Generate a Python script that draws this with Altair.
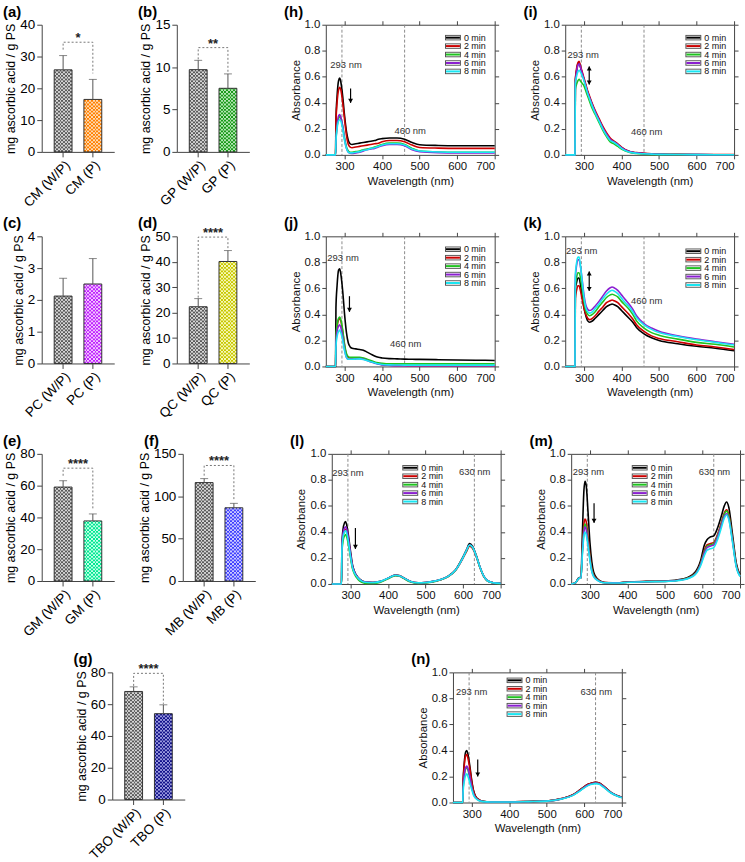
import math
import altair as alt
import pandas as pd

FONT = "Liberation Sans"

# ---------------- antioxidant capacity, bar panels (a)-(g) ----------------
GROUPS = ["CM", "GP", "PC", "QC", "GM", "MB", "TBO"]
MEAN_WP = [25.8, 9.7, 2.12, 22.3, 59.1, 116.1, 68.0]
SD_WP = [4.5, 1.1, 0.56, 3.2, 4.0, 4.7, 2.9]
MEAN_P = [16.5, 7.5, 2.5, 40.1, 37.8, 86.4, 54.0]
SD_P = [6.3, 1.7, 0.8, 4.3, 4.4, 5.2, 5.6]
SIGNIF = ["*", "**", "", "****", "****", "****", "****"]
Y_TICKS = [[0, 10, 20, 30, 40], [0, 5, 10, 15], [0, 1, 2, 3, 4], [0, 10, 20, 30, 40, 50],
           [0, 20, 40, 60, 80], [0, 50, 100, 150], [0, 20, 40, 60, 80]]
BRACKET_Y = [34.5, 12.3, None, 49.7, 71.0, 136.3, 79.4]

# two tones of each bar's checkered fill: (dark, light)
GRAY_TONES = ("#5a5a5a", "#d6d6d6")
P_TONES = [("#ff8000", "#ffd9b0"), ("#1a9a1a", "#b3e6b3"), ("#c020ff", "#f2c6ff"), ("#c8c800", "#f7f7b5"),
           ("#00e890", "#c2ffe8"), ("#4040ff", "#cacaff"), ("#12128a", "#9a9ade")]
BRACKET_GAP_PX = [6, 1, 0, 1, 5, 3, 1]

# ---------------- absorbance spectra, panels (h)-(n) ----------------
SERIES = ["0 min", "2 min", "4 min", "6 min", "8 min"]
COLORS = ["#000000", "#cc0000", "#1fc41f", "#8b1fd1", "#19e6f2"]

WL_A = [250, 276, 277, 280, 284, 287, 290, 295, 300, 305, 310, 315, 320, 330, 340, 350,
        360, 370, 380, 390, 400, 420, 440, 460, 480, 500, 550, 600, 650, 700]

H0 = [0, 0, 0.27, 0.45, 0.57, 0.59, 0.56, 0.45, 0.30, 0.18, 0.11, 0.085, 0.08, 0.085, 0.09, 0.095,
      0.10, 0.105, 0.11, 0.12, 0.125, 0.13, 0.13, 0.12, 0.095, 0.078, 0.072, 0.07, 0.07, 0.07]
H2 = [0, 0, 0.25, 0.40, 0.50, 0.52, 0.50, 0.40, 0.27, 0.15, 0.08, 0.06, 0.055, 0.06, 0.065, 0.07,
      0.075, 0.08, 0.085, 0.09, 0.10, 0.11, 0.11, 0.10, 0.075, 0.057, 0.052, 0.05, 0.05, 0.05]
H4 = [0, 0, 0.12, 0.22, 0.28, 0.30, 0.28, 0.22, 0.13, 0.06, 0.03, 0.02, 0.02, 0.025, 0.03, 0.04,
      0.045, 0.05, 0.06, 0.07, 0.08, 0.09, 0.09, 0.08, 0.05, 0.03, 0.022, 0.02, 0.02, 0.02]
H6 = [0, 0, 0.10, 0.22, 0.30, 0.31, 0.29, 0.22, 0.12, 0.05, 0.02, 0.012, 0.01, 0.015, 0.02, 0.03,
      0.04, 0.045, 0.05, 0.06, 0.07, 0.08, 0.08, 0.07, 0.04, 0.025, 0.017, 0.015, 0.015, 0.015]
H8 = [0, 0, 0.10, 0.20, 0.26, 0.27, 0.26, 0.20, 0.11, 0.05, 0.02, 0.015, 0.015, 0.02, 0.025, 0.035,
      0.04, 0.05, 0.055, 0.065, 0.075, 0.085, 0.085, 0.075, 0.045, 0.03, 0.022, 0.02, 0.02, 0.02]

I0 = [0, 0, 0.57, 0.64, 0.70, 0.71, 0.68, 0.63, 0.58, 0.53, 0.48, 0.44, 0.40, 0.33, 0.27, 0.21,
      0.16, 0.12, 0.10, 0.08, 0.055, 0.025, 0.015, 0.01, 0.007, 0.005, 0.003, 0.002, 0.001, 0.001]
I2 = [0, 0, 0.57, 0.66, 0.71, 0.72, 0.69, 0.64, 0.59, 0.54, 0.49, 0.45, 0.41, 0.34, 0.28, 0.22,
      0.17, 0.13, 0.105, 0.085, 0.06, 0.028, 0.017, 0.012, 0.008, 0.006, 0.004, 0.003, 0.002, 0.002]
I4 = [0, 0, 0.50, 0.54, 0.57, 0.58, 0.57, 0.55, 0.53, 0.49, 0.45, 0.41, 0.37, 0.31, 0.25, 0.19,
      0.14, 0.10, 0.085, 0.065, 0.045, 0.02, 0.01, 0.006, 0.004, 0.003, 0.002, 0.001, 0.001, 0.001]
I6 = [0, 0, 0.55, 0.63, 0.69, 0.70, 0.68, 0.63, 0.58, 0.53, 0.48, 0.44, 0.40, 0.33, 0.27, 0.21,
      0.16, 0.12, 0.10, 0.08, 0.055, 0.025, 0.015, 0.01, 0.007, 0.005, 0.003, 0.002, 0.001, 0.001]
I8 = [0, 0, 0.55, 0.60, 0.64, 0.65, 0.64, 0.61, 0.57, 0.52, 0.47, 0.43, 0.39, 0.32, 0.26, 0.20,
      0.15, 0.11, 0.095, 0.075, 0.05, 0.022, 0.012, 0.008, 0.006, 0.004, 0.003, 0.002, 0.001, 0.001]

J0 = [0, 0, 0.45, 0.62, 0.74, 0.75, 0.71, 0.58, 0.40, 0.26, 0.18, 0.15, 0.14, 0.135, 0.13, 0.125,
      0.11, 0.095, 0.08, 0.07, 0.065, 0.06, 0.058, 0.056, 0.055, 0.054, 0.052, 0.05, 0.048, 0.046]
J2 = [0, 0, 0.20, 0.30, 0.36, 0.37, 0.35, 0.27, 0.16, 0.09, 0.07, 0.065, 0.065, 0.065, 0.065, 0.06,
      0.05, 0.04, 0.03, 0.02, 0.015, 0.01, 0.008, 0.007, 0.006, 0.006, 0.005, 0.005, 0.005, 0.005]
J4 = [0, 0, 0.22, 0.32, 0.37, 0.38, 0.36, 0.28, 0.17, 0.10, 0.075, 0.07, 0.07, 0.07, 0.07, 0.065,
      0.055, 0.045, 0.035, 0.028, 0.024, 0.02, 0.02, 0.02, 0.02, 0.02, 0.02, 0.02, 0.02, 0.02]
J6 = [0, 0, 0.18, 0.27, 0.31, 0.32, 0.30, 0.23, 0.13, 0.07, 0.055, 0.055, 0.055, 0.058, 0.06, 0.055,
      0.045, 0.035, 0.025, 0.018, 0.012, 0.008, 0.006, 0.005, 0.005, 0.005, 0.005, 0.005, 0.005, 0.005]
J8 = [0, 0, 0.15, 0.23, 0.27, 0.28, 0.26, 0.20, 0.12, 0.07, 0.055, 0.055, 0.055, 0.057, 0.058, 0.054,
      0.045, 0.036, 0.028, 0.02, 0.015, 0.012, 0.011, 0.01, 0.01, 0.01, 0.01, 0.01, 0.01, 0.01]

WL_K = [250, 276, 277, 280, 284, 287, 290, 295, 300, 305, 310, 315, 320, 330, 340, 350, 360,
        370, 375, 380, 390, 400, 410, 420, 430, 440, 460, 480, 500, 550, 600, 650, 700]
K0 = [0, 0, 0.60, 0.64, 0.68, 0.68, 0.64, 0.55, 0.45, 0.39, 0.35, 0.34, 0.345, 0.37, 0.40, 0.43, 0.46,
      0.475, 0.48, 0.475, 0.46, 0.43, 0.40, 0.37, 0.34, 0.30, 0.25, 0.22, 0.20, 0.175, 0.155, 0.14, 0.12]
K2 = [0, 0, 0.52, 0.58, 0.62, 0.62, 0.59, 0.52, 0.45, 0.40, 0.37, 0.36, 0.365, 0.39, 0.425, 0.455, 0.49,
      0.505, 0.51, 0.505, 0.49, 0.46, 0.43, 0.40, 0.365, 0.32, 0.27, 0.235, 0.215, 0.19, 0.165, 0.15, 0.13]
K4 = [0, 0, 0.62, 0.68, 0.72, 0.72, 0.69, 0.60, 0.50, 0.43, 0.40, 0.39, 0.395, 0.42, 0.46, 0.495, 0.53,
      0.55, 0.555, 0.55, 0.535, 0.50, 0.47, 0.44, 0.40, 0.35, 0.295, 0.26, 0.24, 0.21, 0.185, 0.17, 0.15]
K6 = [0, 0, 0.68, 0.77, 0.82, 0.82, 0.78, 0.67, 0.55, 0.47, 0.44, 0.43, 0.435, 0.465, 0.50, 0.54, 0.58,
      0.605, 0.61, 0.605, 0.585, 0.55, 0.515, 0.48, 0.44, 0.39, 0.33, 0.295, 0.27, 0.235, 0.21, 0.19, 0.17]
K8 = [0, 0, 0.70, 0.79, 0.84, 0.84, 0.79, 0.66, 0.53, 0.45, 0.42, 0.41, 0.415, 0.445, 0.48, 0.52, 0.555,
      0.58, 0.585, 0.58, 0.56, 0.525, 0.49, 0.46, 0.42, 0.375, 0.32, 0.285, 0.26, 0.23, 0.205, 0.185, 0.165]

WL_L = [250, 276, 277, 280, 284, 287, 290, 295, 300, 305, 310, 320, 330, 340, 360, 380, 400, 410, 420,
        430, 440, 460, 480, 500, 520, 540, 560, 580, 600, 610, 617, 625, 635, 645, 655, 665, 680, 700]
L0 = [0, 0, 0.30, 0.42, 0.47, 0.48, 0.45, 0.36, 0.25, 0.15, 0.10, 0.05, 0.025, 0.015, 0.012, 0.02, 0.045,
      0.06, 0.068, 0.065, 0.05, 0.02, 0.01, 0.012, 0.02, 0.035, 0.06, 0.11, 0.21, 0.27, 0.31, 0.29, 0.22,
      0.13, 0.06, 0.025, 0.01, 0.005]
L2 = [0, 0, 0.26, 0.37, 0.41, 0.42, 0.40, 0.32, 0.22, 0.13, 0.09, 0.045, 0.022, 0.013, 0.011, 0.019, 0.043,
      0.058, 0.066, 0.063, 0.048, 0.019, 0.009, 0.011, 0.019, 0.033, 0.057, 0.105, 0.20, 0.255, 0.29, 0.275,
      0.21, 0.125, 0.058, 0.024, 0.01, 0.005]
L4 = [0, 0, 0.24, 0.33, 0.37, 0.38, 0.36, 0.29, 0.20, 0.12, 0.08, 0.035, 0.012, 0.004, 0.004, 0.014, 0.04,
      0.055, 0.063, 0.06, 0.045, 0.015, 0.005, 0.008, 0.016, 0.032, 0.057, 0.105, 0.205, 0.26, 0.30, 0.28,
      0.215, 0.125, 0.058, 0.022, 0.008, 0.003]
L6 = [0, 0, 0.28, 0.39, 0.43, 0.44, 0.42, 0.34, 0.23, 0.14, 0.095, 0.048, 0.024, 0.014, 0.012, 0.02, 0.045,
      0.06, 0.067, 0.064, 0.049, 0.02, 0.01, 0.012, 0.02, 0.034, 0.059, 0.108, 0.205, 0.265, 0.30, 0.285,
      0.215, 0.128, 0.06, 0.025, 0.01, 0.005]
L8 = [0, 0, 0.26, 0.36, 0.40, 0.41, 0.39, 0.31, 0.21, 0.13, 0.088, 0.045, 0.022, 0.013, 0.011, 0.02, 0.045,
      0.06, 0.067, 0.064, 0.049, 0.02, 0.01, 0.012, 0.02, 0.034, 0.059, 0.108, 0.205, 0.265, 0.30, 0.285,
      0.215, 0.128, 0.06, 0.025, 0.01, 0.005]

WL_M = [250, 262, 268, 272, 276, 280, 284, 287, 290, 295, 300, 305, 310, 320, 330, 340, 360, 380, 400,
        450, 500, 550, 580, 595, 605, 612, 620, 630, 640, 650, 658, 664, 670, 680, 690, 700]
M0 = [0, 0.01, 0.04, 0.05, 0.05, 0.40, 0.72, 0.79, 0.76, 0.55, 0.32, 0.17, 0.09, 0.04, 0.02, 0.012, 0.01,
      0.01, 0.015, 0.02, 0.022, 0.04, 0.09, 0.18, 0.30, 0.34, 0.36, 0.37, 0.43, 0.52, 0.60, 0.63, 0.59,
      0.38, 0.16, 0.07]
M2 = [0, 0.01, 0.035, 0.045, 0.045, 0.28, 0.46, 0.50, 0.48, 0.36, 0.22, 0.12, 0.07, 0.035, 0.018, 0.011,
      0.01, 0.01, 0.014, 0.019, 0.021, 0.037, 0.08, 0.16, 0.26, 0.30, 0.31, 0.32, 0.38, 0.47, 0.545, 0.57,
      0.535, 0.345, 0.145, 0.065]
M4 = [0, 0.01, 0.035, 0.045, 0.045, 0.26, 0.42, 0.46, 0.44, 0.33, 0.20, 0.11, 0.065, 0.032, 0.016, 0.01,
      0.009, 0.009, 0.013, 0.018, 0.02, 0.036, 0.078, 0.155, 0.25, 0.29, 0.30, 0.31, 0.37, 0.46, 0.535, 0.56,
      0.525, 0.34, 0.14, 0.063]
M6 = [0, 0.01, 0.035, 0.045, 0.045, 0.25, 0.40, 0.44, 0.42, 0.31, 0.19, 0.10, 0.06, 0.03, 0.015, 0.01,
      0.009, 0.009, 0.013, 0.018, 0.02, 0.035, 0.075, 0.15, 0.24, 0.28, 0.29, 0.30, 0.36, 0.45, 0.52, 0.54,
      0.505, 0.33, 0.135, 0.06]
M8 = [0, 0.01, 0.035, 0.045, 0.045, 0.23, 0.37, 0.40, 0.38, 0.29, 0.18, 0.095, 0.055, 0.028, 0.014, 0.009,
      0.008, 0.008, 0.012, 0.017, 0.019, 0.033, 0.07, 0.14, 0.22, 0.26, 0.27, 0.28, 0.34, 0.43, 0.505, 0.53,
      0.495, 0.32, 0.13, 0.058]

WL_N = [250, 276, 277, 280, 284, 287, 290, 295, 300, 305, 310, 320, 330, 350, 400, 450, 500, 540, 570,
        590, 610, 620, 630, 640, 650, 670, 690, 700]
N0 = [0, 0, 0.15, 0.30, 0.39, 0.40, 0.37, 0.28, 0.17, 0.09, 0.05, 0.02, 0.01, 0.005, 0.005, 0.008, 0.012,
      0.03, 0.06, 0.10, 0.14, 0.15, 0.155, 0.15, 0.13, 0.08, 0.05, 0.04]
N2 = [0, 0, 0.14, 0.28, 0.36, 0.37, 0.34, 0.26, 0.16, 0.085, 0.048, 0.02, 0.01, 0.005, 0.005, 0.008, 0.012,
      0.03, 0.06, 0.10, 0.14, 0.15, 0.155, 0.15, 0.13, 0.08, 0.05, 0.04]
N4 = [0, 0, 0.10, 0.20, 0.26, 0.27, 0.25, 0.19, 0.12, 0.065, 0.038, 0.016, 0.008, 0.004, 0.004, 0.007,
      0.011, 0.028, 0.057, 0.095, 0.135, 0.145, 0.15, 0.145, 0.125, 0.077, 0.048, 0.038]
N6 = [0, 0, 0.11, 0.21, 0.27, 0.28, 0.26, 0.20, 0.12, 0.066, 0.038, 0.016, 0.008, 0.004, 0.004, 0.007,
      0.011, 0.028, 0.057, 0.095, 0.135, 0.145, 0.15, 0.145, 0.125, 0.077, 0.048, 0.038]
N8 = [0, 0, 0.08, 0.16, 0.21, 0.22, 0.20, 0.15, 0.10, 0.055, 0.033, 0.014, 0.007, 0.004, 0.004, 0.007,
      0.011, 0.027, 0.055, 0.092, 0.13, 0.14, 0.145, 0.14, 0.12, 0.075, 0.047, 0.037]

# panel -> (wavelengths, series, guide lines, notes, arrow, legend origin)
SPECTRA = {
    "h": dict(wl=WL_A, vals=[H0, H2, H4, H6, H8], guides=[293, 460],
              notes=[("293 nm", 304, 0.69), ("460 nm", 475, 0.18)], arrow=(316, 0.51, 0.40, False), legend=(120, 13)),
    "i": dict(wl=WL_A, vals=[I0, I2, I4, I6, I8], guides=[293, 460],
              notes=[("293 nm", 298, 0.77), ("460 nm", 467, 0.175)], arrow=(314, 0.68, 0.54, True), legend=(121, 13)),
    "j": dict(wl=WL_A, vals=[J0, J2, J4, J6, J8], guides=[293, 460],
              notes=[("293 nm", 296, 0.83), ("460 nm", 463, 0.175)], arrow=(313, 0.54, 0.42, False), legend=(120, 13)),
    "k": dict(wl=WL_K, vals=[K0, K2, K4, K6, K8], guides=[293, 460],
              notes=[("293 nm", 294, 0.89), ("460 nm", 467, 0.50)], arrow=(314, 0.73, 0.58, True), legend=(121, 15)),
    "l": dict(wl=WL_L, vals=[L0, L2, L4, L6, L8], guides=[293, 630],
              notes=[("293 nm", 293, 0.855), ("630 nm", 631, 0.86)], arrow=(313, 0.43, 0.27, False), legend=(71, 14)),
    "m": dict(wl=WL_M, vals=[M0, M2, M4, M6, M8], guides=[293, 630],
              notes=[("293 nm", 296, 0.86), ("630 nm", 632, 0.86)], arrow=(311, 0.62, 0.47, False), legend=(61, 14)),
    "n": dict(wl=WL_N, vals=[N0, N2, N4, N6, N8], guides=[293, 630],
              notes=[("293 nm", 300, 0.85), ("630 nm", 632, 0.85)], arrow=(316, 0.33, 0.20, False), legend=(54, 8)),
}

BAR_W, BAR_H = 73, 128
SP_W, SP_H = 170, 131
AXIS_COLOR = "#444444"
CELL_PX = 1.8  # size of one checker square


def stripe_fill(first, second, n=10):
    """Hard-edged two-tone gradient: n alternating vertical stripes across the bar."""
    stops = []
    for k in range(n):
        c = first if k % 2 == 0 else second
        stops.append(alt.GradientStop(color=c, offset=k / n))
        stops.append(alt.GradientStop(color=c, offset=(k + 1) / n))
    return alt.Gradient(gradient="linear", stops=stops, x1=0, x2=1, y1=0, y2=0)


def panel_tag(tag, dx, dy):
    """Bold panel letter placed up-left of the plot area."""
    return alt.Chart(pd.DataFrame({"t": [tag]})).mark_text(
        align="left", baseline="middle", fontSize=15, fontWeight="bold", font=FONT, color="black"
    ).encode(x=alt.value(dx), y=alt.value(dy), text="t:N")


def bar_panel(i, tag):
    g = GROUPS[i]
    cats = [f"{g} (W/P)", f"{g} (P)"]
    ymax = Y_TICKS[i][-1]
    means = [MEAN_WP[i], MEAN_P[i]]
    df = pd.DataFrame({"cat": cats, "mean": means, "sd": [SD_WP[i], SD_P[i]]})
    df["top"] = df["mean"] + df["sd"]

    xs = alt.X("cat:N", sort=cats, scale=alt.Scale(domain=cats, paddingInner=0.4, paddingOuter=0.42),
               axis=alt.Axis(title=None, labelAngle=-45, labelFontSize=13.5, labelFont=FONT,
                             labelColor="black", tickSize=5, labelPadding=1, domainColor=AXIS_COLOR,
                             tickColor=AXIS_COLOR))
    ys = alt.Scale(domain=[0, ymax], nice=False)
    yaxis = alt.Axis(values=Y_TICKS[i], title="mg ascorbic acid / g PS", titleFontSize=12.5,
                     titleFont=FONT, titleFontWeight="normal", titleColor="black", titlePadding=2,
                     labelFontSize=13.5, labelFont=FONT, labelColor="black", tickSize=5, labelPadding=2,
                     domainColor=AXIS_COLOR, tickColor=AXIS_COLOR, grid=False, labelOverlap=False)

    # checkered bars: striped base, every other row band with the stripes swapped
    cell = CELL_PX * ymax / BAR_H
    layers = []
    for k, (dark, light) in enumerate([GRAY_TONES, P_TONES[i]]):
        layers.append(alt.Chart(df.iloc[[k]]).mark_bar(strokeWidth=0, fill=stripe_fill(dark, light)).encode(
            x=xs, y=alt.Y("mean:Q", scale=ys, axis=yaxis)))
        nrows = int(math.ceil(means[k] / cell))
        odd = list(range(1, nrows, 2))
        band = pd.DataFrame({"cat": [cats[k]] * len(odd),
                             "y0": [r * cell for r in odd],
                             "y1": [min((r + 1) * cell, means[k]) for r in odd]})
        layers.append(alt.Chart(band).mark_bar(strokeWidth=0, fill=stripe_fill(light, dark)).encode(
            x=xs, y=alt.Y("y0:Q", scale=ys, axis=yaxis), y2="y1:Q"))
    outline = alt.Chart(df).mark_bar(fillOpacity=0, stroke="#333333", strokeWidth=1).encode(
        x=xs, y=alt.Y("mean:Q", scale=ys, axis=yaxis))
    base = alt.Chart(df)
    err = base.mark_rule(color="#555555", strokeWidth=1).encode(
        x=xs, y=alt.Y("mean:Q", scale=ys, axis=yaxis), y2="top:Q")
    cap = base.mark_tick(color="#555555", thickness=1, size=8).encode(
        x=xs, y=alt.Y("top:Q", scale=ys, axis=yaxis))
    layers += [outline, err, cap]

    if SIGNIF[i]:
        gap = BRACKET_GAP_PX[i] * ymax / BAR_H
        level = BRACKET_Y[i]
        bdf = pd.DataFrame({"cat": [cats[0], cats[0], cats[1], cats[1]],
                            "v": [df["top"][0] + gap, level, level, df["top"][1] + gap],
                            "o": [0, 1, 2, 3]})
        bracket = alt.Chart(bdf).mark_line(color="#777777", strokeDash=[2, 2], strokeWidth=1).encode(
            x=xs, y=alt.Y("v:Q", scale=ys, axis=yaxis), order="o:Q")
        sdf = pd.DataFrame({"s": [SIGNIF[i]], "v": [level]})
        star = alt.Chart(sdf).mark_text(fontSize=13, fontWeight="bold", baseline="alphabetic",
                                        font=FONT, color="#222222").encode(
            x=alt.value(BAR_W / 2), y=alt.Y("v:Q", scale=ys, axis=yaxis), text="s:N")
        layers += [bracket, star]

    layers.append(panel_tag(tag, -39, -13))
    return alt.layer(*layers).properties(width=BAR_W, height=BAR_H)


def spec_panel(key, tag):
    cfg = SPECTRA[key]
    rows = []
    for s, vals in zip(SERIES, cfg["vals"]):
        for w, a in zip(cfg["wl"], vals):
            rows.append({"wl": w, "a": a, "series": s})
    df = pd.DataFrame(rows)

    xsc = alt.Scale(domain=[250, 700], nice=False, zero=False)
    ysc = alt.Scale(domain=[0, 1], nice=False)
    xticks = [300, 400, 500, 600, 700]
    yticks = [0, 0.2, 0.4, 0.6, 0.8, 1.0]
    ax_common = dict(domainColor=AXIS_COLOR, tickColor=AXIS_COLOR, tickSize=4, grid=False,
                     labelFont=FONT, labelColor="#111111", titleFont=FONT, titleColor="#111111",
                     titleFontWeight="normal", labelOverlap=False)
    colour = alt.Color("series:N", scale=alt.Scale(domain=SERIES, range=COLORS), legend=None)

    frame = alt.Chart(df).mark_point(opacity=0).encode(
        x=alt.X("wl:Q", scale=xsc, axis=alt.Axis(orient="top", values=xticks, labels=False, title=None, **ax_common)),
        y=alt.Y("a:Q", scale=ysc, axis=alt.Axis(orient="right", values=yticks, labels=False, title=None, **ax_common)))

    guides = alt.Chart(pd.DataFrame({"wl": cfg["guides"]})).mark_rule(
        color="#8a8a8a", strokeDash=[3, 2], strokeWidth=1).encode(x=alt.X("wl:Q", scale=xsc, axis=None))

    lines = alt.Chart(df).mark_line(strokeWidth=1.6, interpolate="monotone").encode(
        x=alt.X("wl:Q", scale=xsc, axis=alt.Axis(values=xticks, title="Wavelength (nm)", labelFontSize=11.5,
                                                 titleFontSize=11.5, labelPadding=2, titlePadding=3, **ax_common)),
        y=alt.Y("a:Q", scale=ysc, axis=alt.Axis(values=yticks, format=".1f", title="Absorbance", labelFontSize=11.5,
                                                titleFontSize=11.5, labelPadding=2, titlePadding=3, **ax_common)),
        color=colour)

    ndf = pd.DataFrame(cfg["notes"], columns=["label", "wl", "a"])
    notes = alt.Chart(ndf).mark_text(fontSize=9.5, font=FONT, color="#333333", baseline="middle").encode(
        x=alt.X("wl:Q", scale=xsc, axis=None), y=alt.Y("a:Q", scale=ysc, axis=None), text="label:N")

    ax, ytop, ybot, both = cfg["arrow"]
    adf = pd.DataFrame({"wl": [ax], "y1": [ytop], "y2": [ybot]})
    shaft = alt.Chart(adf).mark_rule(color="black", strokeWidth=1.2).encode(
        x=alt.X("wl:Q", scale=xsc, axis=None), y=alt.Y("y1:Q", scale=ysc, axis=None), y2="y2:Q")
    head_dn = alt.Chart(adf).mark_point(shape="triangle-down", filled=True, color="black", opacity=1,
                                        size=24, yOffset=-2).encode(
        x=alt.X("wl:Q", scale=xsc, axis=None), y=alt.Y("y2:Q", scale=ysc, axis=None))
    layers = [frame, guides, lines, notes, shaft, head_dn]
    if both:
        head_up = alt.Chart(adf).mark_point(shape="triangle-up", filled=True, color="black", opacity=1,
                                            size=24, yOffset=2).encode(
            x=alt.X("wl:Q", scale=xsc, axis=None), y=alt.Y("y1:Q", scale=ysc, axis=None))
        layers.append(head_up)

    # legend drawn inside the frame: boxed swatches with the series colour
    lx, ly = cfg["legend"]
    ldf = pd.DataFrame({"series": SERIES})
    ly_enc = alt.Y("series:N", scale=alt.Scale(type="point", domain=SERIES, range=[ly, ly + 34], padding=0),
                   axis=None)
    box = alt.Chart(ldf).mark_rule(color="#555555", strokeWidth=5.5).encode(
        x=alt.value(lx), x2=alt.value(lx + 16), y=ly_enc)
    inner = alt.Chart(ldf).mark_rule(color="white", strokeWidth=3.6).encode(
        x=alt.value(lx + 1), x2=alt.value(lx + 15), y=ly_enc)
    swatch = alt.Chart(ldf).mark_rule(strokeWidth=2).encode(
        x=alt.value(lx + 1), x2=alt.value(lx + 15), y=ly_enc, color=colour)
    ltext = alt.Chart(ldf).mark_text(align="left", baseline="middle", fontSize=9, font=FONT,
                                     color="#111111").encode(x=alt.value(lx + 19), y=ly_enc, text="series:N")
    layers += [box, inner, swatch, ltext, panel_tag(tag, -42, -13)]

    return (alt.layer(*layers)
            .resolve_scale(y="independent")
            .resolve_axis(x="independent", y="independent")
            .properties(width=SP_W, height=SP_H))


def spacer(w):
    return alt.Chart(pd.DataFrame({"v": [0]})).mark_text(text="").encode(
        x=alt.value(0), y=alt.value(0)).properties(width=w, height=1)


S1, S2, S3 = 24, 35, 24


def grid_row(a, b, c, d):
    return alt.hconcat(alt.hconcat(a, b, spacing=S1), alt.hconcat(c, d, spacing=S3), spacing=S2)


row1 = grid_row(bar_panel(0, "(a)"), bar_panel(1, "(b)"), spec_panel("h", "(h)"), spec_panel("i", "(i)"))
row2 = grid_row(bar_panel(2, "(c)"), bar_panel(3, "(d)"), spec_panel("j", "(j)"), spec_panel("k", "(k)"))
row3 = grid_row(bar_panel(4, "(e)"), bar_panel(5, "(f)"), spec_panel("l", "(l)"), spec_panel("m", "(m)"))
row4 = alt.hconcat(alt.hconcat(spacer(1), bar_panel(6, "(g)"), spacing=31), spec_panel("n", "(n)"), spacing=228)

chart = (alt.vconcat(alt.vconcat(row1, row2, spacing=7), alt.vconcat(row3, row4, spacing=14), spacing=14)
         .properties(padding={"left": 3, "top": 2, "right": 0, "bottom": 0})
         .configure(font=FONT)
         .configure_view(stroke=None))

chart.save("out.html", embed_options={"renderer": "svg", "actions": False})
